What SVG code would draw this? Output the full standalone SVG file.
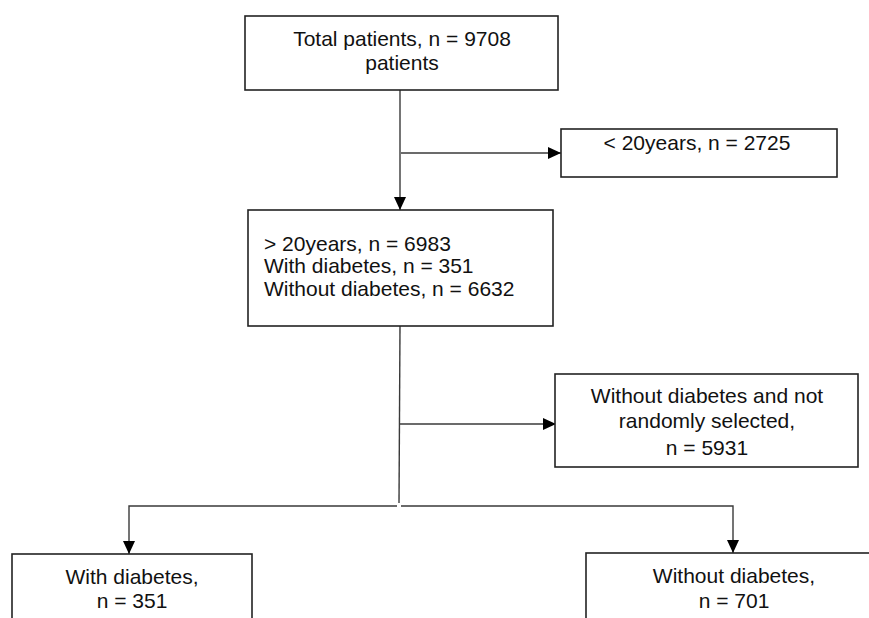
<svg xmlns="http://www.w3.org/2000/svg" width="869" height="618" viewBox="0 0 869 618">
  <defs>
    <style>
      .box { fill: #ffffff; stroke: #222222; stroke-width: 1.6; }
      .conn { fill: none; stroke: #3a3a3a; stroke-width: 1.4; }
      .t { font-family: "Liberation Sans", Arial, sans-serif; font-size: 21px; fill: #111111; }
      .c { text-anchor: middle; }
    </style>
    <marker id="arr" markerUnits="userSpaceOnUse" markerWidth="14" markerHeight="14" viewBox="0 0 14 14" refX="13" refY="7" orient="auto">
      <path d="M0,1 L13,7 L0,13 Z" fill="#000000"/>
    </marker>
  </defs>
  <rect width="869" height="618" fill="#ffffff"/>

  <g id="connectors">
    <line class="conn" x1="400" y1="90" x2="400" y2="210" marker-end="url(#arr)"/>
    <line class="conn" x1="401" y1="153" x2="561" y2="153" marker-end="url(#arr)"/>
    <line class="conn" x1="400" y1="326" x2="399" y2="503"/>
    <line class="conn" x1="400" y1="424" x2="556" y2="424" marker-end="url(#arr)"/>
    <polyline class="conn" points="397,506 129,506 129,554" marker-end="url(#arr)"/>
    <polyline class="conn" points="401,506 733,506 733,553" marker-end="url(#arr)"/>
  </g>

  <g id="node-total">
    <rect class="box" x="245" y="16" width="313" height="74"/>
    <text class="t c" x="402" y="46">Total patients, n = 9708</text>
    <text class="t c" x="402" y="70">patients</text>
  </g>

  <g id="node-under20">
    <rect class="box" x="561" y="129" width="276" height="48"/>
    <text class="t c" x="697" y="150">&lt; 20years, n = 2725</text>
  </g>

  <g id="node-over20">
    <rect class="box" x="248" y="210" width="305" height="116"/>
    <text class="t" x="264" y="251">&gt; 20years, n = 6983</text>
    <text class="t" x="264" y="273">With diabetes, n = 351</text>
    <text class="t" x="264" y="296">Without diabetes, n = 6632</text>
  </g>

  <g id="node-excluded">
    <rect class="box" x="555" y="374" width="303" height="93"/>
    <text class="t c" x="707" y="403">Without diabetes and not</text>
    <text class="t c" x="707" y="428">randomly selected,</text>
    <text class="t c" x="707" y="455">n = 5931</text>
  </g>

  <g id="node-with-diabetes">
    <rect class="box" x="12" y="554" width="240" height="80"/>
    <text class="t c" x="132" y="584">With diabetes,</text>
    <text class="t c" x="132" y="608">n = 351</text>
  </g>

  <g id="node-without-diabetes">
    <rect class="box" x="586" y="553" width="300" height="80"/>
    <text class="t c" x="734" y="583">Without diabetes,</text>
    <text class="t c" x="734" y="608">n = 701</text>
  </g>
</svg>
